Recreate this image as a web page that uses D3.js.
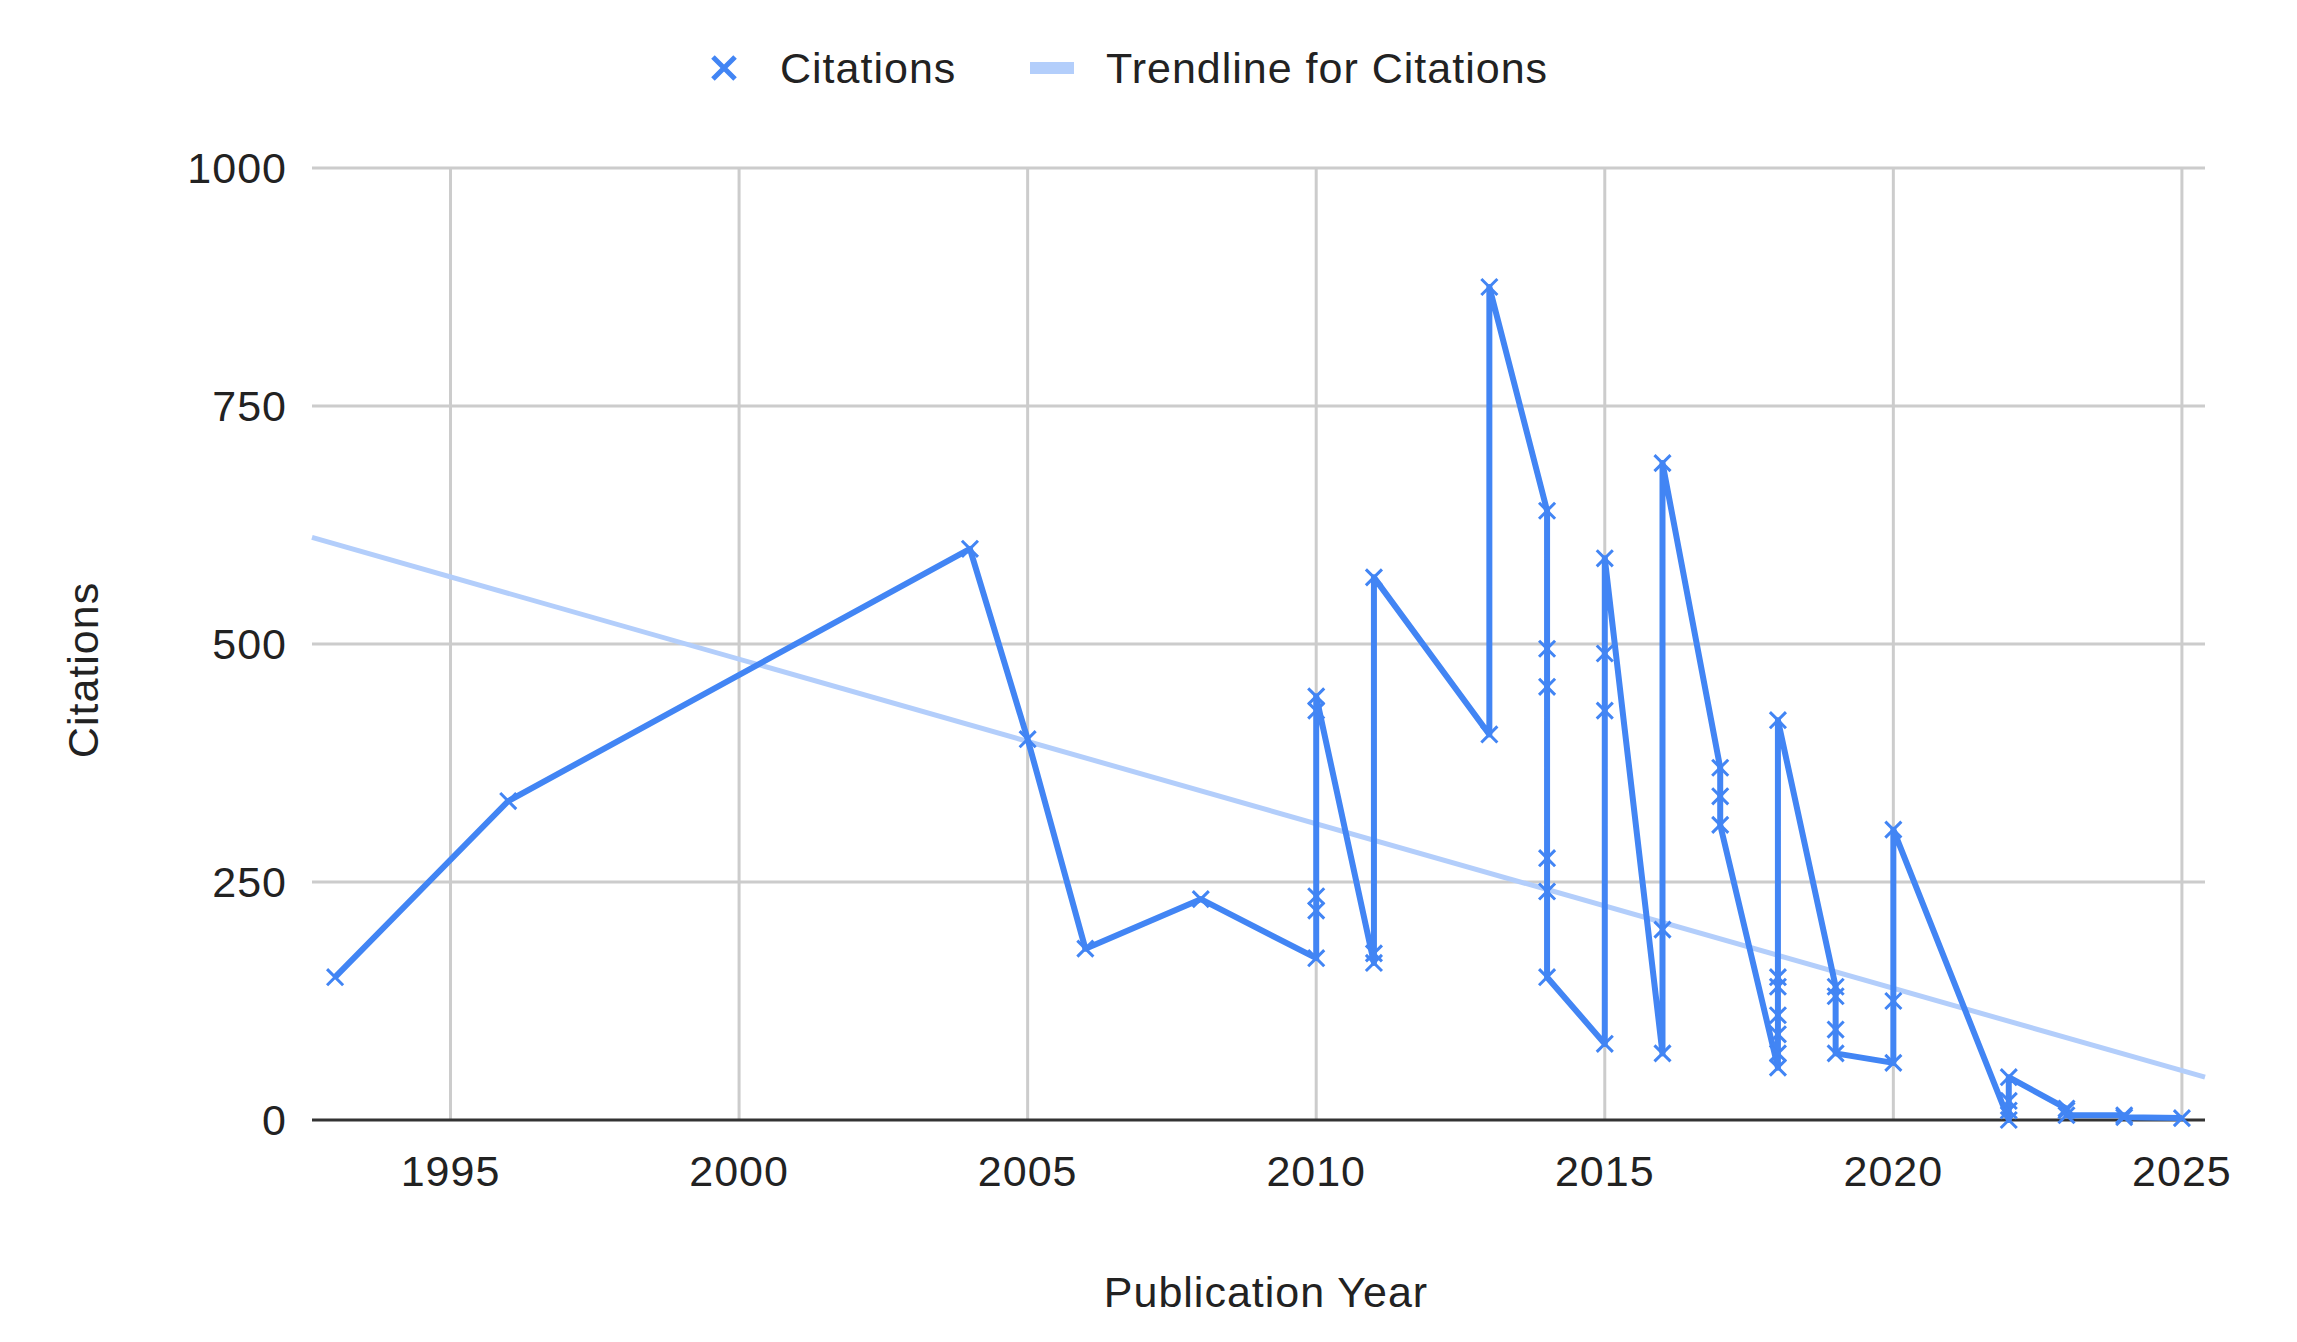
<!DOCTYPE html>
<html>
<head>
<meta charset="utf-8">
<script src="https://cdn.jsdelivr.net/npm/d3@7"></script>
<style>
  body { margin: 0; background: #fff; }
  text { font-family: "Liberation Sans", Arial, sans-serif; fill: #222; letter-spacing: 1px; }
</style>
</head>
<body>
<svg id="chart" width="2297" height="1342"></svg>
<script>
// citations per paper, in drawing order
const years = [1993, 1996, 2004, 2005, 2006, 2008,
  2010, 2010, 2010, 2010, 2010, 2011, 2011, 2011, 2013, 2013,
  2014, 2014, 2014, 2014, 2014, 2014, 2015, 2015, 2015, 2015,
  2016, 2016, 2016, 2017, 2017, 2017,
  2018, 2018, 2018, 2018, 2018, 2018, 2018, 2019, 2019, 2019, 2019,
  2020, 2020, 2020, 2022, 2022, 2022, 2022, 2023, 2023, 2023, 2024, 2024, 2025];
const citations = [150, 335, 600, 400, 180, 232,
  170, 220, 235, 430, 445, 165, 175, 570, 405, 875,
  640, 495, 455, 275, 240, 150, 80, 430, 490, 590,
  70, 200, 690, 370, 340, 310,
  55, 70, 90, 110, 140, 150, 420, 140, 130, 95, 70,
  60, 125, 305, 0, 10, 20, 45, 12, 10, 5, 5, 3, 2];
const trendYears = [1992.6, 2025.4];
const trendValues = [612, 45];
const xTicks = [1995, 2000, 2005, 2010, 2015, 2020, 2025];
const yTicks = [0, 250, 500, 750, 1000];

const blue = "#4285f4", light = "#b3cefb";
const margin = { left: 312, top: 168, right: 2205, bottom: 1120 };
const svg = d3.select("#chart");
const x = d3.scaleLinear().domain([1992.6, 2025.4]).range([margin.left, margin.right]);
const y = d3.scaleLinear().domain([0, 1000]).range([margin.bottom, margin.top]);

// grid
svg.append("g").selectAll("line").data(yTicks.slice(1)).join("line")
  .attr("x1", margin.left).attr("x2", margin.right)
  .attr("y1", d => y(d)).attr("y2", d => y(d))
  .attr("stroke", "#ccc").attr("stroke-width", 3);
svg.append("g").selectAll("line").data(xTicks).join("line")
  .attr("x1", d => x(d)).attr("x2", d => x(d))
  .attr("y1", margin.top).attr("y2", margin.bottom)
  .attr("stroke", "#ccc").attr("stroke-width", 3);
svg.append("line").attr("x1", margin.left).attr("x2", margin.right)
  .attr("y1", y(0)).attr("y2", y(0)).attr("stroke", "#333").attr("stroke-width", 3);

// tick labels
svg.append("g").selectAll("text").data(xTicks).join("text")
  .attr("x", d => x(d)).attr("y", 1186).attr("text-anchor", "middle")
  .attr("font-size", 43).text(d => d);
svg.append("g").selectAll("text").data(yTicks).join("text")
  .attr("x", 287).attr("y", d => y(d) + 15).attr("text-anchor", "end")
  .attr("font-size", 43).text(d => d);

// trendline
svg.append("line")
  .attr("x1", x(trendYears[0])).attr("y1", y(trendValues[0]))
  .attr("x2", x(trendYears[1])).attr("y2", y(trendValues[1]))
  .attr("stroke", light).attr("stroke-width", 5);

// series
const pts = years.map((yr, i) => [x(yr), y(citations[i])]);
svg.append("path").attr("d", d3.line()(pts))
  .attr("fill", "none").attr("stroke", blue).attr("stroke-width", 6)
  .attr("stroke-linejoin", "round");
const cross = d3.symbol().type(d3.symbolX).size(170);
svg.append("g").selectAll("path").data(pts).join("path")
  .attr("transform", d => `translate(${d[0]},${d[1]})`)
  .attr("d", cross).attr("stroke", blue).attr("stroke-width", 3).attr("fill", "none");

// axis titles
svg.append("text").attr("x", 1266).attr("y", 1307)
  .attr("text-anchor", "middle").attr("font-size", 43).text("Publication Year");
svg.append("text").attr("transform", "translate(98,670) rotate(-90)")
  .attr("text-anchor", "middle").attr("font-size", 43).text("Citations");

// legend
const lg = svg.append("g").attr("transform", "translate(724,68)");
lg.append("path")
  .attr("d", d3.symbol().type(d3.symbolX).size(320))
  .attr("stroke", blue).attr("stroke-width", 5).attr("fill", "none");
lg.append("text").attr("x", 56).attr("y", 15).attr("font-size", 43).text("Citations");
lg.append("rect").attr("x", 306).attr("y", -6).attr("width", 44).attr("height", 12)
  .attr("fill", light);
lg.append("text").attr("x", 382).attr("y", 15).attr("font-size", 43).text("Trendline for Citations");
</script>
</body>
</html>
